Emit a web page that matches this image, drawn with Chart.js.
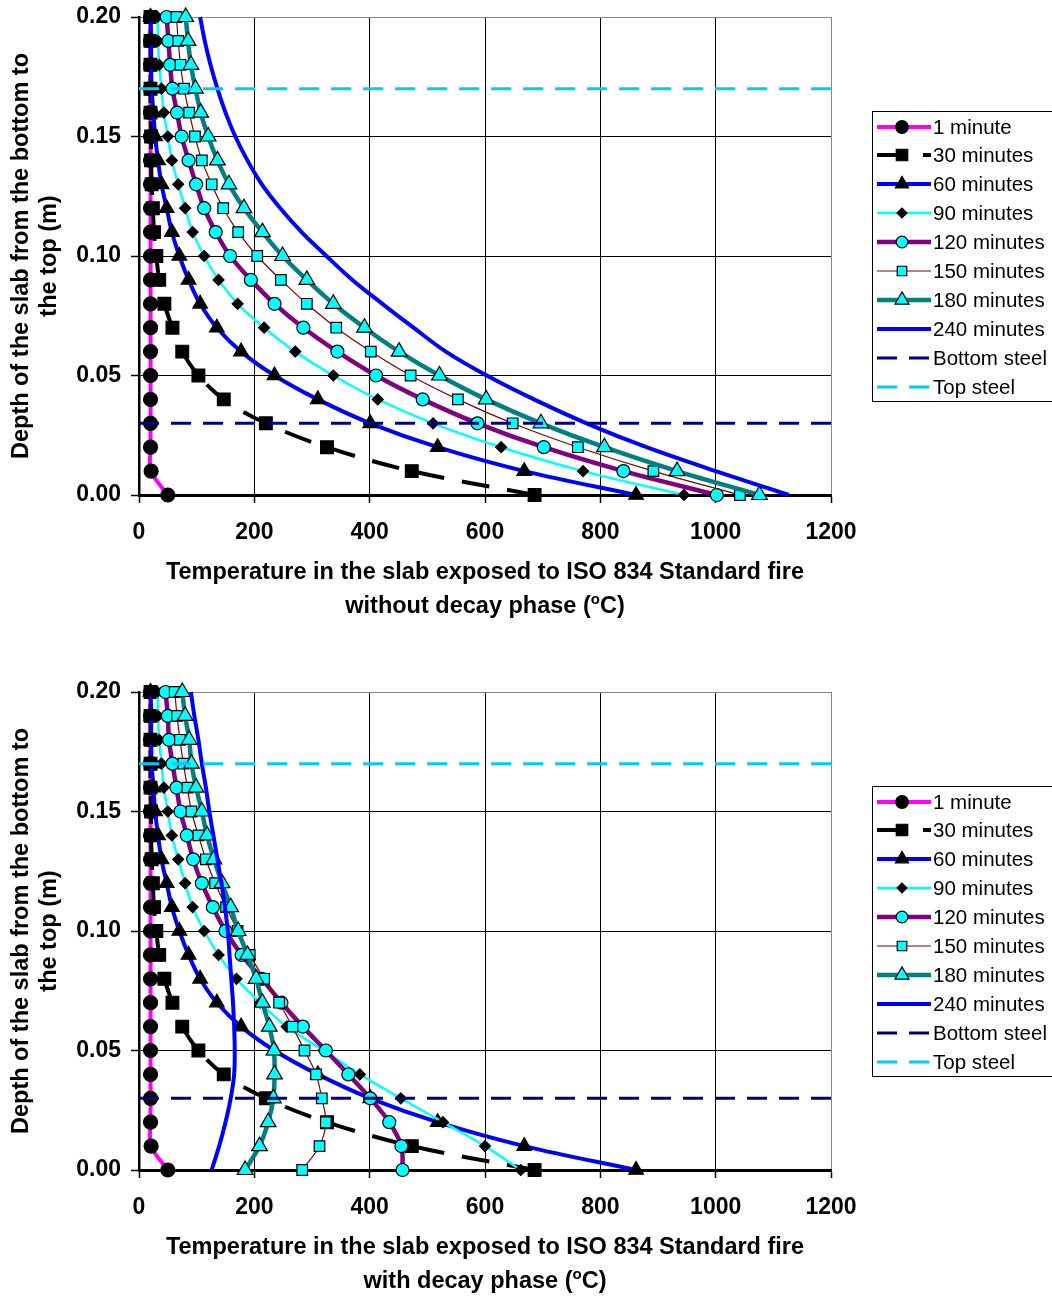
<!DOCTYPE html>
<html>
<head>
<meta charset="utf-8">
<script src="https://cdn.jsdelivr.net/npm/chart.js@4/dist/chart.umd.min.js"></script>
<style>
  body { margin: 0; width: 1052px; height: 1297px; overflow: hidden; background: #fff;
         font-family: "Liberation Sans", Arial, sans-serif; }
  .panel { position: absolute; left: 0; width: 1052px; height: 620px; }
  .xtitle { position: absolute; left: 89px; width: 792px; top: 554px; text-align: center;
            font-weight: bold; font-size: 23.5px; line-height: 34px; color: #000; }
  .xtitle sup { font-size: 15px; vertical-align: 9px; line-height: 0; }
  .legend { position: absolute; left: 872px; top: 111px; width: 200px; height: 289px;
            border: 1px solid #000; background: #fff; }
  .row { position: absolute; left: 0; height: 29px; display: flex; align-items: center;
         font-size: 20.5px; color: #000; white-space: nowrap; }
  .row canvas { margin-left: 3px; margin-right: 2px; }
</style>
</head>
<body>

<div class="panel" style="top:0">
  <canvas id="chartTop" width="1052" height="620"></canvas>
  <div class="xtitle">Temperature in the slab exposed to ISO 834 Standard fire<br>without decay phase (<sup>o</sup>C)</div>
  <div class="legend" id="legendTop"></div>
</div>

<div class="panel" style="top:675px">
  <canvas id="chartBottom" width="1052" height="620"></canvas>
  <div class="xtitle">Temperature in the slab exposed to ISO 834 Standard fire<br>with decay phase (<sup>o</sup>C)</div>
  <div class="legend" id="legendBottom"></div>
</div>

<script>
// depth in the slab (m), bottom (exposed face) to top
const depths = [0.00, 0.01, 0.02, 0.03, 0.04, 0.05, 0.06, 0.07, 0.08, 0.09, 0.10,
                0.11, 0.12, 0.13, 0.14, 0.15, 0.16, 0.17, 0.18, 0.19, 0.20];

const seriesNames = ['1 minute', '30 minutes', '60 minutes', '90 minutes', '120 minutes',
                     '150 minutes', '180 minutes', '240 minutes'];

// heating phase (same in both charts)
const temp1min  = [50, 21, 20, 20, 20, 20, 20, 20, 20, 20, 20, 20, 20, 20, 20, 20, 20, 20, 20, 20, 20];
const temp30min = [686, 473, 326, 220, 147, 103, 75, 58, 44, 35, 30, 26, 24, 22, 21, 21, 20, 20, 20, 20, 20];
const temp60min = [862, 668, 518, 401, 310, 235, 177, 135, 106, 86, 70, 57, 48, 39, 33, 28, 25, 22, 21, 21, 20];

// without decay phase
const noDecay90  = [945, 770, 628, 510, 414, 337, 271, 217, 171, 138, 113, 93, 80, 68, 57, 50, 43, 39, 35, 33, 32];
const noDecay120 = [1002, 840, 702, 587, 492, 411, 344, 285, 235, 194, 158, 133, 113, 99, 86, 74, 66, 58, 54, 51, 48];
const noDecay150 = [1042, 892, 761, 648, 553, 471, 402, 342, 291, 246, 205, 172, 146, 126, 109, 97, 87, 78, 72, 68, 65];
const noDecay180 = [1076, 933, 807, 697, 602, 521, 451, 391, 337, 291, 249, 214, 182, 156, 136, 120, 107, 98, 90, 85, 81];
const noDecay240 = [1127, 1000, 880, 776, 685, 603, 532, 476, 422, 370, 325, 282, 245, 213, 188, 167, 150, 136, 124, 114, 106];

// with decay phase
const decay90  = [662, 600, 527, 454, 383, 320, 256, 210, 169, 138, 113, 93, 80, 68, 57, 50, 43, 39, 35, 33, 32];
const decay120 = [457, 455, 434, 401, 363, 324, 284, 247, 213, 178, 150, 128, 109, 94, 83, 72, 65, 58, 52, 50, 46];
const decay150 = [283, 313, 324, 317, 307, 287, 266, 243, 217, 192, 171, 151, 132, 116, 103, 91, 84, 77, 71, 66, 62];
const decay180 = [184, 209, 224, 233, 235, 234, 226, 214, 203, 188, 172, 159, 144, 130, 118, 109, 99, 91, 87, 80, 75];
const decay240 = [126, 139, 150, 159, 165, 166, 165, 163, 160, 157, 154, 149, 143, 136, 129, 122, 116, 109, 103, 96, 90];

const bottomSteelDepth = 0.03;
const topSteelDepth = 0.17;
const xTicks = [0, 200, 400, 600, 800, 1000, 1200];
const yTicks = [0.00, 0.05, 0.10, 0.15, 0.20];

const styles = [
    { color: '#FF00FF', width: 4,   dash: [],       point: 'circle',   r: 7,   fill: '#000',    edge: '#000' },
    { color: '#000000', width: 4,   dash: [28, 18], point: 'rect',     r: 9,   fill: '#000',    edge: '#000' },
    { color: '#0000FF', width: 4,   dash: [],       point: 'triangle', r: 8.5, fill: '#000',    edge: '#000' },
    { color: '#00FFFF', width: 2.5, dash: [],       point: 'rectRot',  r: 5.5, fill: '#000',    edge: '#000' },
    { color: '#800080', width: 4.5, dash: [],       point: 'circle',   r: 6.5, fill: '#00FFFF', edge: '#000' },
    { color: '#800000', width: 1.2, dash: [],       point: 'rect',     r: 7.5, fill: '#00FFFF', edge: '#000' },
    { color: '#008080', width: 4.5, dash: [],       point: 'triangle', r: 9,   fill: '#00FFFF', edge: '#000' },
    { color: '#0000FF', width: 4,   dash: [],       point: false,      r: 0,   fill: '#000',    edge: '#000' },
    { color: '#000080', width: 3,   dash: [20, 12], point: false,      r: 0 },
    { color: '#00CCFF', width: 3,   dash: [20, 12], point: false,      r: 0 }
];

const font = { family: '"Liberation Sans", Arial, sans-serif', size: 23, weight: 'bold' };

function toPoints(temps) {
    return depths.map((d, i) => ({ x: temps[i], y: d }));
}

function buildDatasets(temps) {
    const all = temps.map(toPoints);
    all.push([{ x: xTicks[0], y: bottomSteelDepth }, { x: xTicks[xTicks.length - 1], y: bottomSteelDepth }]);
    all.push([{ x: xTicks[0], y: topSteelDepth }, { x: xTicks[xTicks.length - 1], y: topSteelDepth }]);
    return all.map((data, i) => {
        const s = styles[i];
        return {
            label: i < seriesNames.length ? seriesNames[i] : (i === 8 ? 'Bottom steel' : 'Top steel'),
            data: data,
            showLine: true,
            borderColor: s.color,
            borderWidth: s.width,
            borderDash: s.dash,
            tension: i < 8 ? 0.35 : 0,
            pointStyle: s.point || 'circle',
            pointRadius: s.r,
            pointHoverRadius: s.r,
            pointBackgroundColor: s.fill,
            pointBorderColor: s.edge,
            pointBorderWidth: 1.2,
            clip: false,
            order: 20 - i
        };
    });
}

function makeChart(id, temps) {
    const canvas = document.getElementById(id);
    return new Chart(canvas.getContext('2d'), {
        type: 'scatter',
        data: { datasets: buildDatasets(temps) },
        options: {
            responsive: false,
            animation: false,
            events: [],
            layout: { padding: { top: 17, right: 221, left: 0, bottom: 0 } },
            plugins: { legend: { display: false }, tooltip: { enabled: false } },
            scales: {
                x: {
                    type: 'linear',
                    min: 0,
                    max: 1200,
                    afterBuildTicks: s => { s.ticks = xTicks.map(v => ({ value: v })); },
                    afterFit: s => { s.height = 125; },
                    ticks: {
                        color: '#000',
                        padding: 16,
                        maxRotation: 0,
                        callback: v => String(v),
                        font: font
                    },
                    grid: {
                        color: ctx => (ctx.tick && ctx.tick.value === 1200 ? '#888' : '#000'),
                        lineWidth: 1,
                        tickLength: 8,
                        tickColor: '#000',
                        tickWidth: 1.5
                    },
                    border: { color: '#000', width: 3 }
                },
                y: {
                    type: 'linear',
                    min: 0,
                    max: 0.2,
                    afterBuildTicks: s => { s.ticks = yTicks.map(v => ({ value: v })); },
                    afterFit: s => { s.width = 139; s.paddingTop = 0; s.paddingBottom = 0; },
                    ticks: {
                        color: '#000',
                        padding: 10,
                        callback: v => v.toFixed(2),
                        font: font
                    },
                    grid: {
                        color: ctx => (ctx.tick && ctx.tick.value === 0.2 ? '#888' : '#000'),
                        lineWidth: 1,
                        tickLength: 8,
                        tickColor: '#000',
                        tickWidth: 1.5
                    },
                    border: { color: '#000', width: 2.5 },
                    title: {
                        display: true,
                        text: ['Depth of the slab from the bottom to', 'the top (m)'],
                        color: '#000',
                        padding: { top: 8, bottom: 0 },
                        font: { family: font.family, size: 23.5, weight: 'bold', lineHeight: 1.19 }
                    }
                }
            }
        }
    });
}

function makeLegend(id, chart) {
    const box = document.getElementById(id);
    chart.data.datasets.forEach((ds, i) => {
        const s = styles[i];
        const row = document.createElement('div');
        row.className = 'row';
        row.style.top = (28.9 * i) + 'px';
        const c = document.createElement('canvas');
        c.width = 55;
        c.height = 22;
        const ctx = c.getContext('2d');
        ctx.strokeStyle = s.color;
        ctx.lineWidth = s.width;
        ctx.setLineDash(s.dash);
        ctx.beginPath();
        ctx.moveTo(1, 11);
        ctx.lineTo(55, 11);
        ctx.stroke();
        ctx.setLineDash([]);
        if (s.point) {
            ctx.fillStyle = s.fill;
            ctx.strokeStyle = s.edge;
            ctx.lineWidth = 1.2;
            Chart.helpers.drawPoint(ctx, { pointStyle: s.point, radius: s.r * 0.9, rotation: 0, borderWidth: 1.2 }, 26, 11);
        }
        row.appendChild(c);
        const label = document.createElement('span');
        label.textContent = ds.label;
        row.appendChild(label);
        box.appendChild(row);
    });
}

const topChart = makeChart('chartTop',
    [temp1min, temp30min, temp60min, noDecay90, noDecay120, noDecay150, noDecay180, noDecay240]);
const bottomChart = makeChart('chartBottom',
    [temp1min, temp30min, temp60min, decay90, decay120, decay150, decay180, decay240]);

makeLegend('legendTop', topChart);
makeLegend('legendBottom', bottomChart);
</script>
</body>
</html>
